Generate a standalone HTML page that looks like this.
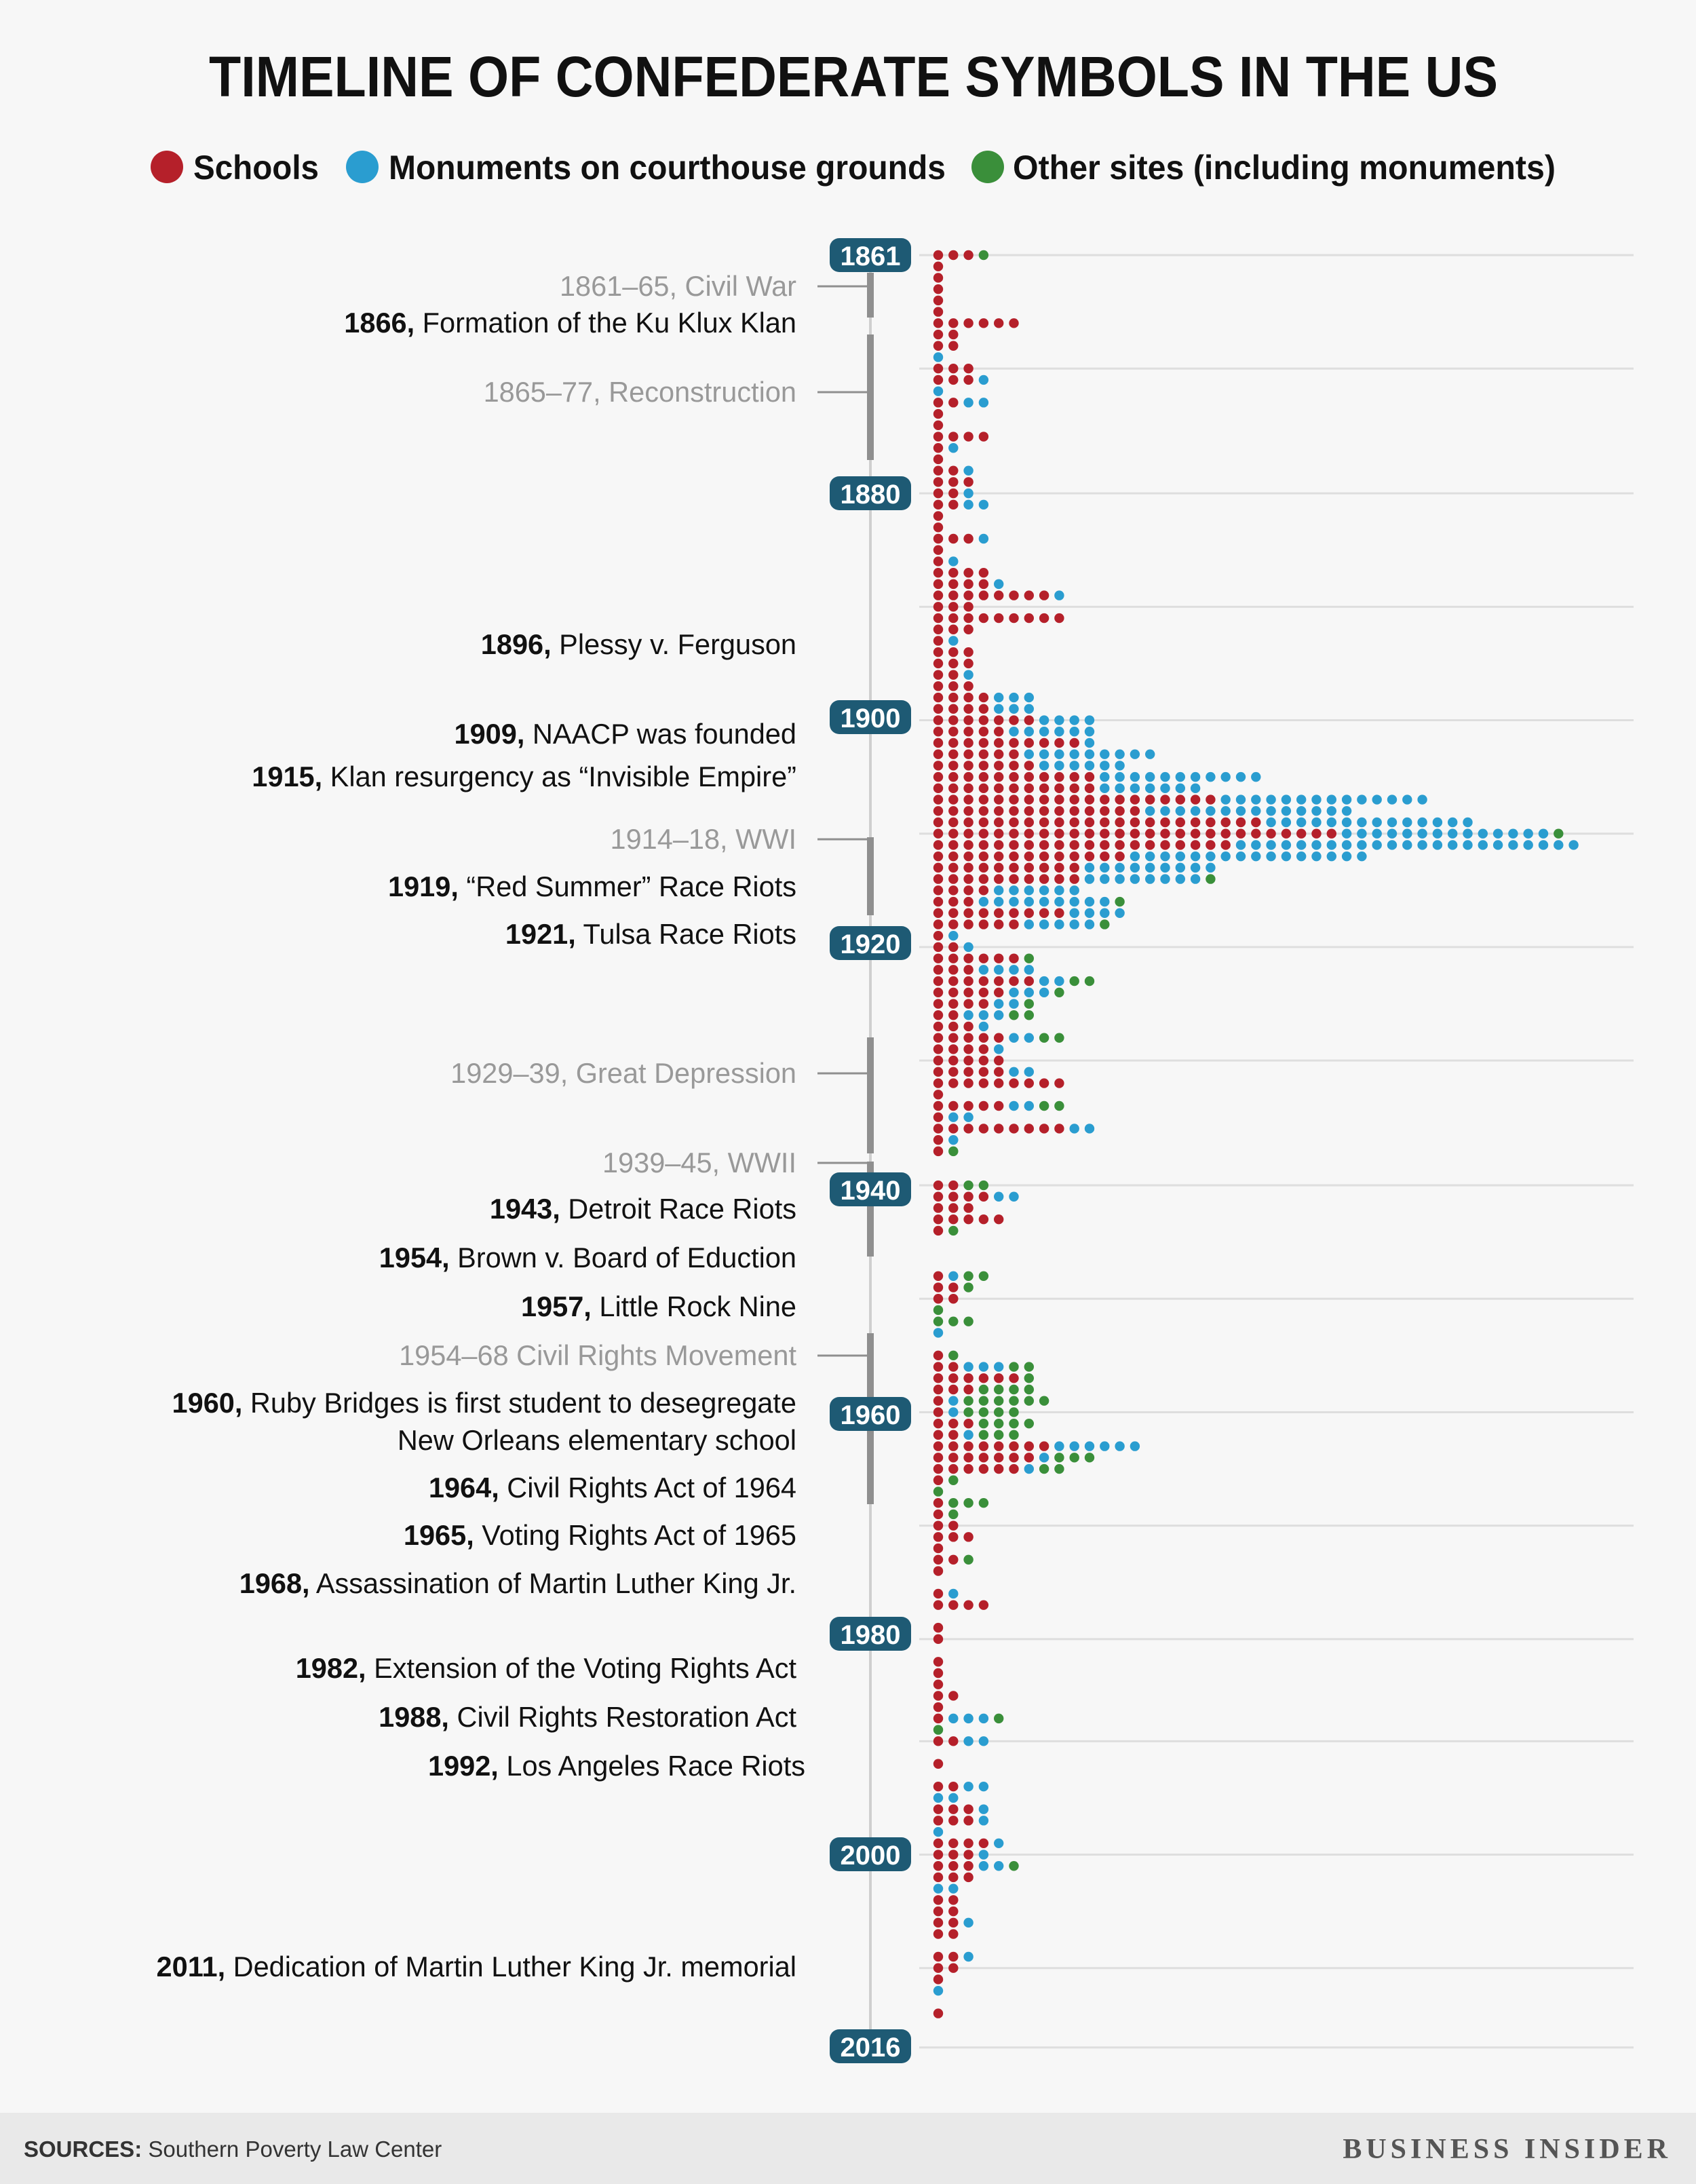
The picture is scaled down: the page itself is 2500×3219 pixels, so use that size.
<!DOCTYPE html>
<html><head><meta charset="utf-8"><style>
html,body{margin:0;padding:0;background:#f7f7f7;}
svg{display:block;}
text{font-family:"Liberation Sans",sans-serif;}
</style></head><body>
<svg id="chart" width="2500" height="3219" viewBox="0 0 2500 3219" xmlns="http://www.w3.org/2000/svg">
<rect x="0" y="0" width="2500" height="3219" fill="#f7f7f7"/>
<text x="1258" y="142" text-anchor="middle" font-size="84" font-weight="bold" fill="#111" textLength="1900" lengthAdjust="spacingAndGlyphs">TIMELINE OF CONFEDERATE SYMBOLS IN THE US</text>
<g>
<g><circle cx="246" cy="246" r="24" fill="#b5202a"/><text x="285" y="264" font-size="50" font-weight="bold" fill="#111" textLength="185" lengthAdjust="spacingAndGlyphs">Schools</text></g>
<g><circle cx="534" cy="246" r="24" fill="#2a9dd0"/><text x="573" y="264" font-size="50" font-weight="bold" fill="#111" textLength="821" lengthAdjust="spacingAndGlyphs">Monuments on courthouse grounds</text></g>
<g><circle cx="1456" cy="246" r="24" fill="#3a8f3a"/><text x="1493" y="264" font-size="50" font-weight="bold" fill="#111" textLength="800" lengthAdjust="spacingAndGlyphs">Other sites (including monuments)</text></g>
</g>
<g id="grid"></g>
<line x1="1283" y1="376" x2="1283" y2="3016" stroke="#cfcfcf" stroke-width="4"/>
<g id="periods"></g>
<g id="dots"></g>
<g id="badges"></g>
<g id="events"></g>
<rect x="0" y="3114" width="2500" height="105" fill="#e9e9e9"/>
<text x="35" y="3179" font-size="33" fill="#333"><tspan font-weight="bold">SOURCES:</tspan> Southern Poverty Law Center</text>
<text x="2464" y="3181" text-anchor="end" font-size="42" font-weight="bold" fill="#555" letter-spacing="6" style="font-family:'Liberation Serif',serif">BUSINESS INSIDER</text>
</svg>
<script>
const schools = [3,1,1,1,1,1,6,2,2,0, 3,3,0,2,1,1,4,1,1,2, 3,2,2,1,1,3,1,1,4,4, 8,3,9,3,1,3,3,2,3,4, 4,7,5,10,6,7,11,11,19,14, 22,27,20,13,10,10,4,3,9,6, 1,2,6,3,7,5,4,2,3,5, 4,5,5,9,1,5,1,9,1,1, 0,0,2,4,3,5,1,0,0, 0,1,2,2,0,0,0,0,1,2, 6,3,1,1,3,2,8,7,6,1, 0,1,1,2,3,1,2,1,0,1, 4,0,1,1,0,1,1,1,2,1,1, 0,2,0,1,0,2,0,3,3,0, 4,3,3,3,0,2,2,2,2,0, 2,2,1,0,0,1,0,0];
const courthouse = [0,0,0,0,0,0,0,0,0,1, 0,1,1,2,0,0,0,1,0,1, 0,1,2,0,0,1,0,1,0,1, 1,0,0,0,1,0,0,1,0,3, 3,4,6,1,9,6,11,7,14,14, 14,14,23,16,9,8,6,9,4,5, 1,1,0,4,2,3,2,3,1,2, 1,0,2,0,0,2,2,2,1,0, 0,0,0,2,0,0,0,0,0, 0,1,0,0,0,0,1,0,0,3, 0,0,1,1,0,1,6,1,1,0, 0,0,0,0,0,0,0,0,0,1, 0,0,0,0,0,0,0,0,0,0,3, 0,2,0,0,0,2,2,1,1,1, 1,1,2,0,2,0,0,1,0,0, 1,0,0,1,0,0,0,0];
const other = [1,0,0,0,0,0,0,0,0,0, 0,0,0,0,0,0,0,0,0,0, 0,0,0,0,0,0,0,0,0,0, 0,0,0,0,0,0,0,0,0,0, 0,0,0,0,0,0,0,0,0,0, 0,1,0,0,0,1,0,1,0,1, 0,0,1,0,2,1,1,2,0,2, 0,0,0,0,0,2,0,0,0,1, 0,0,2,0,0,0,1,0,0, 0,2,1,0,1,3,0,0,1,2, 1,4,6,4,4,3,0,3,2,1, 1,3,1,0,0,0,1,0,0,0, 0,0,0,0,0,0,0,0,0,0,1, 1,0,0,0,0,0,0,0,0,0, 0,0,1,0,0,0,0,0,0,0, 0,0,0,0,0,0,0,0];
const badgeYears = ["1861","1880","1900","1920","1940","1960","1980","2000","2016"];
const badgeY = [376,727,1057,1390,1753,2084,2408,2733,3016];
const gridRows = [0,10,21,31,41,51,61,71,82,92,102,112,122,131,141,151,158];
const NS = "http://www.w3.org/2000/svg";
const Y0 = 376, ROW = 16.72, X0 = 1383, COL = 22.3;
function yScale(i){ return Y0 + i*ROW; }
function xScale(j){ return X0 + j*COL; }
function mk(tag, attrs, parent){ const e=document.createElementNS(NS,tag); for(const k in attrs) e.setAttribute(k,attrs[k]); parent.appendChild(e); return e; }
const grid = document.getElementById('grid');
gridRows.forEach(function(r){
  const l = mk('line',{x1:1355,x2:2408,y1:yScale(r),y2:yScale(r),stroke:'#dedede','stroke-width':3},grid);
  
  
});
const dots = document.getElementById('dots');
const series = [[schools,'#b5202a','school-dot'],[courthouse,'#2a9dd0','courthouse-dot'],[other,'#3a8f3a','other-dot']];
for(let i=0;i<schools.length;i++){
  let j=0;
  series.forEach(function(s){
    for(let k=0;k<(s[0][i]||0);k++){
      const c = mk('circle',{cx:xScale(j),cy:yScale(i),r:7.2,fill:s[1]},dots);
      
      
      j++;
    }
  });
}
const periods = document.getElementById('periods');
const periodData = [[402,468,422,1205],[493,678,578,1205],[1234,1349,1237,1205],[1529,1700,1582,1205],[1712,1852,1714,1205],[1965,2217,1998,1205]];
periodData.forEach(function(p){
  const b = mk('rect',{x:1278,y:p[0],width:10,height:p[1]-p[0],fill:'#8f8f8f'},periods);
  
  
  const l = mk('line',{x1:p[3],x2:1280,y1:p[2],y2:p[2],stroke:'#8f8f8f','stroke-width':3},periods);
  
  
});
const badges = document.getElementById('badges');
badgeYears.forEach(function(t,i){
  const y = badgeY[i];
  const g = mk('g',{},badges);
  
  
  mk('rect',{x:1223,y:y-25,width:120,height:50,rx:14,fill:'#1e5a74'},g);
  const tx = mk('text',{x:1283,y:y+15,'text-anchor':'middle','font-size':40,'font-weight':'bold',fill:'#fff'},g);
  tx.textContent = t;
});
const events = [
 ["1861–65, Civil War",422,1],["1866,"," Formation of the Ku Klux Klan",476,0],
 ["1865–77, Reconstruction",578,1],["1896,"," Plessy v. Ferguson",950,0],
 ["1909,"," NAACP was founded",1082,0],["1915,"," Klan resurgency as “Invisible Empire”",1145,0],
 ["1914–18, WWI",1237,1],["1919,"," “Red Summer” Race Riots",1307,0],
 ["1921,"," Tulsa Race Riots",1377,0],["1929–39, Great Depression",1582,1],
 ["1939–45, WWII",1714,1],["1943,"," Detroit Race Riots",1782,0],
 ["1954,"," Brown v. Board of Eduction",1854,0],["1957,"," Little Rock Nine",1926,0],
 ["1954–68 Civil Rights Movement",1998,1],["1960,"," Ruby Bridges is first student to desegregate",2068,0],
 ["",   "New Orleans elementary school",2123,0],["1964,"," Civil Rights Act of 1964",2193,0],
 ["1965,"," Voting Rights Act of 1965",2263,0],["1968,"," Assassination of Martin Luther King Jr.",2334,0],
 ["1982,"," Extension of the Voting Rights Act",2459,0],["1988,"," Civil Rights Restoration Act",2531,0],
 ["1992,"," Los Angeles Race Riots",2603,0,1187],["2011,"," Dedication of Martin Luther King Jr. memorial",2899,0]
];
const ev = document.getElementById('events');
events.forEach(function(e){
  let t;
  if(typeof e[1]==='number'){
    t = mk('text',{x:1174,y:e[1]+14,'text-anchor':'end','font-size':41.5,fill:'#999'},ev);
    t.textContent = e[0];
  } else {
    const x = e[4] || 1174;
    t = mk('text',{x:x,y:e[2]+14,'text-anchor':'end','font-size':41.5,fill:'#111'},ev);
    if(e[0]){ const b = mk('tspan',{'font-weight':'bold'},t); b.textContent = e[0]; }
    const s = mk('tspan',{},t); s.textContent = e[1];
  }
  
  
});
</script>
</body></html>
